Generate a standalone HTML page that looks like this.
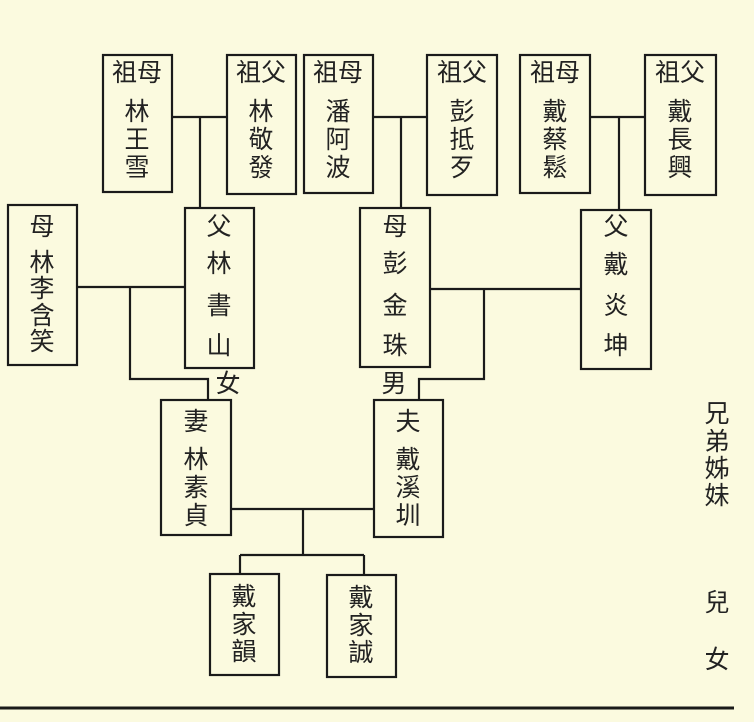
<!DOCTYPE html>
<html><head><meta charset="utf-8"><style>
html,body{margin:0;padding:0;background:#fbfadf;}
svg{display:block;}
text{font-family:"Liberation Sans","Noto Sans CJK TC","Noto Sans CJK SC",sans-serif;font-size:25px;fill:#222;text-anchor:middle;dominant-baseline:central;}
</style></head><body>
<svg width="754" height="722" viewBox="0 0 754 722">
<rect width="754" height="722" fill="#fbfadf"/>
<g fill="none" stroke="#1a1a1a" stroke-width="2.2">
<rect x="103" y="55" width="69" height="137"/>
<rect x="227" y="55" width="69" height="139"/>
<rect x="304" y="55" width="69" height="138"/>
<rect x="427" y="55" width="70" height="140"/>
<rect x="520" y="55" width="70" height="138"/>
<rect x="645" y="55" width="71" height="140"/>
<rect x="8" y="205" width="69" height="160"/>
<rect x="185" y="208" width="69" height="160"/>
<rect x="360" y="208" width="70" height="159"/>
<rect x="581" y="210" width="70" height="159"/>
<rect x="161" y="400" width="70" height="135"/>
<rect x="374" y="400" width="69" height="137"/>
<rect x="210" y="574" width="69" height="101"/>
<rect x="327" y="575" width="69" height="102"/>
<path d="M172 117H227M200 117V208"/>
<path d="M373 117H427M401 117V208"/>
<path d="M590 117H645M619 117V210"/>
<path d="M77 287H185M130 287V379H208V400"/>
<path d="M430 289H581M484 289V379H419V400"/>
<path d="M231 509H374M303 509V555M240 555H364M240 555V574M364 555V575"/>
</g>
<line x1="0" y1="708" x2="734" y2="708" stroke="#1a1a1a" stroke-width="3"/>
<g>
<text x="137" y="73">祖母</text><text x="137" y="112">林</text><text x="137" y="140">王</text><text x="137" y="168">雪</text>
<text x="261" y="73">祖父</text><text x="261" y="112">林</text><text x="261" y="140">敬</text><text x="261" y="168">發</text>
<text x="338" y="73">祖母</text><text x="338" y="112">潘</text><text x="338" y="140">阿</text><text x="338" y="168">波</text>
<text x="462" y="73">祖父</text><text x="462" y="112">彭</text><text x="462" y="140">抵</text><text x="462" y="168">歹</text>
<text x="555" y="73">祖母</text><text x="555" y="112">戴</text><text x="555" y="140">蔡</text><text x="555" y="168">鬆</text>
<text x="680" y="73">祖父</text><text x="680" y="112">戴</text><text x="680" y="140">長</text><text x="680" y="168">興</text>
<text x="42" y="227">母</text><text x="42" y="263">林</text><text x="42" y="289">李</text><text x="42" y="316">含</text><text x="42" y="342">笑</text>
<text x="219" y="227">父</text><text x="219" y="264">林</text><text x="219" y="306">書</text><text x="219" y="346">山</text>
<text x="395" y="227">母</text><text x="395" y="264">彭</text><text x="395" y="306">金</text><text x="395" y="346">珠</text>
<text x="616" y="227">父</text><text x="616" y="265">戴</text><text x="616" y="306">炎</text><text x="616" y="346">坤</text>
<text x="228" y="384">女</text><text x="394" y="384">男</text>
<text x="196" y="422">妻</text><text x="196" y="460">林</text><text x="196" y="488">素</text><text x="196" y="516">貞</text>
<text x="408" y="422">夫</text><text x="408" y="460">戴</text><text x="408" y="488">溪</text><text x="408" y="516">圳</text>
<text x="244" y="597">戴</text><text x="244" y="625">家</text><text x="244" y="652">韻</text>
<text x="361" y="598">戴</text><text x="361" y="626">家</text><text x="361" y="653">誠</text>
<text x="717" y="414">兄</text><text x="717" y="442">弟</text><text x="717" y="469">姊</text><text x="717" y="496">妹</text>
<text x="717" y="603">兒</text><text x="717" y="660">女</text>
</g>
</svg>
</body></html>
